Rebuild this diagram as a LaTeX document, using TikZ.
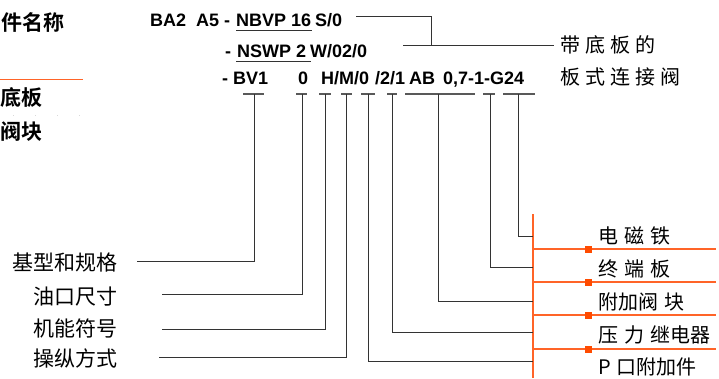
\documentclass[tikz,border=0pt]{standalone}
\usepackage{fontspec}
\setmainfont{Liberation Sans}
\newfontfamily\cjk{Noto Sans CJK SC}
\newfontfamily\cjkbf{Noto Sans CJK SC Bold}
\newfontfamily\cjksp[LetterSpace=25]{Noto Sans CJK SC}
\newcommand\cjkgap{\hspace{6pt}}
\definecolor{busorange}{RGB}{255,100,40}
\definecolor{markorange}{RGB}{255,75,0}

\tikzstyle{code}=[font=\fontsize{18}{20}\selectfont\bfseries,inner sep=0pt,anchor=base west]
\tikzstyle{headcjk}=[font=\cjkbf\fontsize{21}{22}\selectfont,inner sep=0pt,anchor=west]
\tikzstyle{leftlab}=[font=\cjk\fontsize{21}{22}\selectfont,inner sep=0pt,anchor=east]
\tikzstyle{rightlab}=[font=\cjk\fontsize{20}{22}\selectfont,inner sep=0pt,anchor=west]
\tikzstyle{lead}=[draw,black!80,line width=1pt]
\tikzstyle{tick}=[draw,black!65,line width=1.2pt]
\tikzstyle{bus}=[draw,busorange,line width=1.2pt]
\tikzstyle{marker}=[fill=markorange,minimum size=7pt,inner sep=0pt]

\begin{document}
\begin{tikzpicture}[x=1pt,y=-1pt]
     \useasboundingbox (0,0) rectangle (719,378);

     % left margin, cut off
     \node[headcjk] (head) at (1,22) {件名称};
     \node[headcjk] (base) at (0,97) {底板};
     \node[headcjk] (block) at (0,132) {阀块};
     \draw[busorange,line width=1pt] (0,79) -- (83,79);
     \draw[gray!30,line width=0.8pt,dash pattern=on 1pt off 21pt] (13,115) -- (80,115);

     % type code
     \node[code] (l1a) at (150,26) {BA2\ \ A5 -};
     \node[code] (l1b) at (236,26) {NBVP 16};
     \node[code] (l1c) at (315,26) {S/0};
     \node[code] (l2a) at (225,57) {-};
     \node[code] (l2b) at (237,57) {NSWP 2};
     \node[code] (l2c) at (310,57) {W/02/0};
     \node[code] (l3a) at (222,84) {- BV1};
     \node[code] (l3b) at (298,84) {0};
     \node[code] (l3c) at (321,84) {H/M/0};
     \node[code] (l3d) at (375,84) {/2/1};
     \node[code] (l3e) at (409,84) {AB};
     \node[code] (l3f) at (443,84) {0,7-1-G24};
     \draw[lead] ([yshift=-4pt]l1b.base west) -- ([yshift=-4pt,xshift=1pt]l1b.base east);
     \draw[lead] ([yshift=-4pt,xshift=-1pt]l2b.base west) -- ([yshift=-4pt,xshift=5pt]l2b.base east);

     % plate mounted valve
     \node[rightlab,font=\cjksp\fontsize{20}{22}\selectfont] (plate) at (560,45) {带底板的};
     \node[rightlab,font=\cjksp\fontsize{20}{22}\selectfont] (plate2) at (560,77) {板式连接阀};
     \coordinate (j1) at (356,16);
     \coordinate (j2) at (403,45);
     \draw[lead] (j1) -| (431,45);
     \draw[lead] (j2) -- ([xshift=-6pt]plate.west);

     % ticks under the code
     \foreach \name/\a/\m/\b in {t1/243/254/264, t2/296/302/307, t3/319/325/331,
       t4/341/346/352, t5/361/368/375, t6/387/392/397, t7/405/438/475,
       t8/483/490/495, t9/503/518/535}
     {
       \draw[tick] (\a,94) -- (\b,94);
       \coordinate (\name) at (\m,94);
     }

     % left labels
     \foreach \pos/\name/\text in {{(118,263)/size/基型和规格}, {(118,297)/port/油口尺寸},
       {(118,328)/func/机能符号}, {(118,358)/oper/操纵方式}}
     \node[leftlab] (\name) at \pos {\text};

     \coordinate (e1) at (137,261);
     \coordinate (e2) at (162,294);
     \coordinate (e3) at (162,329);
     \coordinate (e4) at (159,357);
     \foreach \source/\dest in {t1/e1, t2/e2, t3/e3, t4/e4}
     \path[lead] (\source) |- (\dest);

     % bus on the right
     \coordinate (bustop) at (533,214);
     \coordinate (busbot) at (533,378);
     \draw[bus] (bustop) -- (busbot);
     \foreach \y in {249, 282, 315, 349}
     {
       \draw[bus] (533,\y) -- (716,\y);
       \node[marker] at (588,\y) {};
     }

     \foreach \pos/\name/\text in {{(598,236)/coil/电\cjkgap 磁\cjkgap 铁},
       {(598,269)/endp/终\cjkgap 端\cjkgap 板}, {(598,302)/addb/附加阀\cjkgap 块},
       {(598,335)/relay/压\cjkgap 力\cjkgap 继电器}, {(598,367)/pport/P\cjkgap 口附加件}}
     \node[rightlab] (\name) at \pos {\text};

     \coordinate (f1) at (533,361);
     \coordinate (f2) at (533,332);
     \coordinate (f3) at (533,301);
     \coordinate (f4) at (533,267);
     \coordinate (f5) at (533,236);
     \foreach \source/\dest in {t5/f1, t6/f2, t7/f3, t8/f4, t9/f5}
     \path[lead] (\source) |- (\dest);
\end{tikzpicture}
\end{document}
